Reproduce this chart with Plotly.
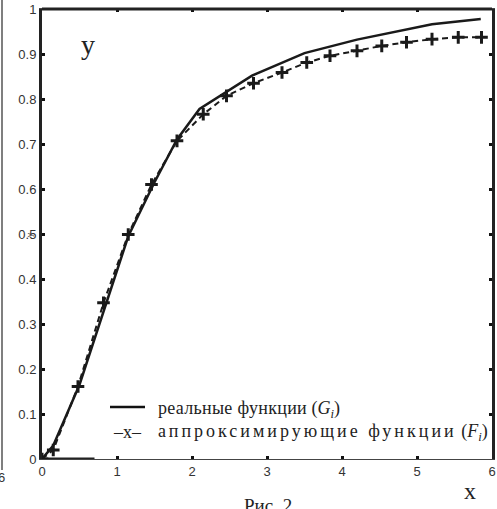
import plotly.graph_objects as go

# Real function G (solid)
g_x = [0, 0.15, 0.5, 0.85, 1.15, 1.5, 1.8, 2.1, 2.8, 3.5, 4.2, 5.2, 5.85]
g_y = [0, 0.03, 0.165, 0.345, 0.495, 0.615, 0.71, 0.778, 0.852, 0.902, 0.932, 0.966, 0.978]

# Approximating function F (dashed with markers)
f_x = [0, 0.15, 0.48, 0.82, 1.15, 1.46, 1.80, 2.15, 2.46, 2.82, 3.2, 3.53, 3.84, 4.2, 4.53, 4.86, 5.2, 5.55, 5.86]
f_y = [0, 0.02, 0.161, 0.347, 0.499, 0.61, 0.707, 0.766, 0.807, 0.835, 0.859, 0.881, 0.896, 0.907, 0.918, 0.926, 0.933, 0.937, 0.937]

# short thick baseline segment at y=0
base_x = [0, 0.7]
base_y = [0, 0]

x_ticks = [0, 1, 2, 3, 4, 5, 6]
y_ticks = [0, 0.1, 0.2, 0.3, 0.4, 0.5, 0.6, 0.7, 0.8, 0.9, 1]
y_tick_text = ["0", "0.1", "0.2", "0.3", "0.4", "0.5", "0.6", "0.7", "0.8", "0.9", "1"]

fig = go.Figure()
fig.add_trace(go.Scatter(x=base_x, y=base_y, mode="lines",
                         line=dict(color="#222", width=3), showlegend=False))
fig.add_trace(go.Scatter(x=g_x, y=g_y, mode="lines",
                         line=dict(color="#1a1a1a", width=2.5), showlegend=False))
fig.add_trace(go.Scatter(x=f_x, y=f_y, mode="lines+markers",
                         line=dict(color="#1a1a1a", width=2, dash="6px,4px"),
                         marker=dict(symbol="cross-thin", size=9,
                                     line=dict(color="#1a1a1a", width=3)),
                         showlegend=False))

serif = "Liberation Serif"
sans = "Liberation Sans"

L, T, W, H = 42, 9, 450, 450

def px(x):
    return (x - L) / W

def py(y):
    return (T + H - y) / H

fig.update_layout(
    width=497, height=509,
    margin=dict(l=L, r=497 - L - W, t=T, b=509 - T - H, autoexpand=False),
    paper_bgcolor="white", plot_bgcolor="white",
    xaxis=dict(range=[0, 6], tickvals=x_ticks, showgrid=False, zeroline=False,
               showline=True, linecolor="#444", linewidth=1, mirror="ticks",
               ticks="inside", ticklen=3, tickwidth=3, tickcolor="#111",
               automargin=False,
               tickfont=dict(family=sans, size=13, color="#333")),
    yaxis=dict(range=[0, 1], tickvals=y_ticks, ticktext=y_tick_text, showgrid=False,
               zeroline=False, showline=True, linecolor="#222", linewidth=3,
               mirror="ticks", ticks="inside", ticklen=3, tickwidth=3, tickcolor="#111",
               automargin=False,
               tickfont=dict(family=sans, size=13, color="#333")),
    shapes=[
        dict(type="line", xref="paper", yref="paper", x0=0, x1=1, y0=1, y1=1,
             line=dict(color="#222", width=3)),
        # legend sample line
        dict(type="line", xref="paper", yref="paper", x0=px(110), x1=px(145),
             y0=py(407), y1=py(407), line=dict(color="#111", width=2.5)),
        # fragment of neighbouring figure at the left edge
        dict(type="line", xref="paper", yref="paper", x0=px(2), x1=px(2),
             y0=py(470), y1=py(0), line=dict(color="#555", width=1.5)),
    ],
    annotations=[
        dict(text='<span style="letter-spacing:0.3px">реальные функции</span> (<i>G<sub>i</sub></i>)',
             xref="paper", yref="paper",
             x=px(156), y=py(409), xanchor="left", yanchor="middle",
             showarrow=False, font=dict(family=serif, size=18, color="#222")),
        dict(text="–x–", xref="paper", yref="paper",
             x=px(127), y=py(432), xanchor="center", yanchor="middle",
             showarrow=False, font=dict(family=serif, size=18, color="#222")),
        dict(text='<span style="letter-spacing:3px">аппроксимирующие функции</span> (<i>F<sub>i</sub></i>)',
             xref="paper", yref="paper",
             x=px(156), y=py(432), xanchor="left", yanchor="middle",
             showarrow=False, font=dict(family=serif, size=18, color="#222")),
        dict(text="y", xref="paper", yref="paper", x=px(88), y=py(45),
             xanchor="center", yanchor="middle", showarrow=False,
             font=dict(family=serif, size=28, color="#222")),
        dict(text="x", xref="paper", yref="paper", x=px(470), y=py(491),
             xanchor="center", yanchor="middle", showarrow=False,
             font=dict(family=serif, size=24, color="#222")),
        dict(text="Рис. 2", xref="paper", yref="paper", x=px(268), y=py(506),
             xanchor="center", yanchor="middle", showarrow=False,
             font=dict(family=serif, size=19, color="#222")),
        dict(text="y", xref="paper", yref="paper", x=px(29), y=py(235),
             xanchor="center", yanchor="middle", showarrow=False, textangle=-90,
             font=dict(family=sans, size=8, color="#333")),
        dict(text="6", xref="paper", yref="paper", x=px(1), y=py(477),
             xanchor="center", yanchor="middle", showarrow=False,
             font=dict(family=sans, size=13, color="#333")),
    ],
)

fig.write_html("out.html", config={"displayModeBar": False},
               post_script="document.body.style.margin='0';")
